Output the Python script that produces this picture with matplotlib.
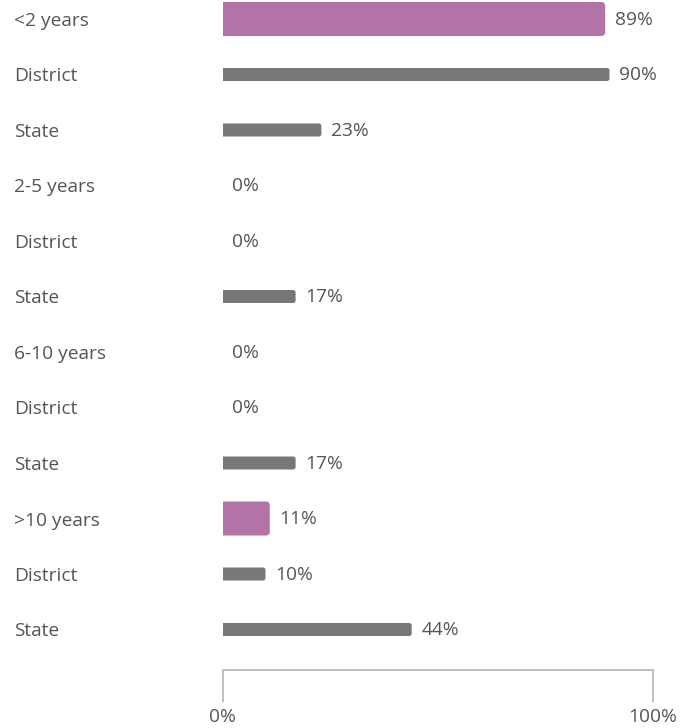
import matplotlib
matplotlib.use("Agg")
import matplotlib.pyplot as plt
from matplotlib.patches import FancyBboxPatch

categories = ["<2 years", "District", "State", "2-5 years", "District", "State",
              "6-10 years", "District", "State", ">10 years", "District", "State"]
values = [89, 90, 23, 0, 0, 17, 0, 0, 17, 11, 10, 44]
is_group = [True, False, False, True, False, False, True, False, False, True, False, False]

PURPLE = "#B273A6"
GRAY = "#777777"
TEXT = "#555555"

plt.rcParams['font.family'] = ['Open Sans', 'DejaVu Sans']
FS = 13.8

W, H = 691, 728
fig = plt.figure(figsize=(W / 100, H / 100), dpi=100)
x0, x1 = 222.5, 652.5
ytop, ybot = 0, 670
ax = fig.add_axes([x0 / W, 1 - ybot / H, (x1 - x0) / W, (ybot - ytop) / H])

row_px = 55.5
first_px = 19
ax.set_xlim(0, 100)
ax.set_ylim((ybot - first_px) / row_px, -first_px / row_px)

xpp = 100 / (x1 - x0)      # data x per pixel
ypp = 1 / row_px           # data y per pixel

ypos = list(range(len(categories)))
heights = [34 * ypp if g else 13 * ypp for g in is_group]
colors = [PURPLE if g else GRAY for g in is_group]

bars = ax.barh(ypos, values, height=heights, color=colors, alpha=0)
for b, g, c, v in zip(bars, is_group, colors, values):
    x, y = b.get_x(), b.get_y()
    w, h = b.get_width(), b.get_height()
    if w > 0:
        r = (4 if g else 2.5) * xpp
        p = FancyBboxPatch((x - 3 * r, y), w + 3 * r, h,
                           boxstyle=f"round,pad=0,rounding_size={r}",
                           mutation_aspect=ypp / xpp, facecolor=c, edgecolor="none")
        ax.add_patch(p)
    ax.text(w + 9.5 * xpp, y + h / 2 + 0.8 * ypp, f"{v}%", va="center", ha="left",
            fontsize=FS, color=TEXT)

ax.set_yticks(ypos, categories)
ax.tick_params(axis="y", length=0, pad=(x0 - 14) * 0.72, labelsize=FS, labelcolor=TEXT)
for t in ax.get_yticklabels():
    t.set_horizontalalignment("left")

ax.set_xticks([0, 100], ["0%", "100%"])
ax.tick_params(axis="x", length=32 * 0.72, width=1.3, color="#BBBBBB", direction="out",
               pad=4, labelsize=FS, labelcolor=TEXT)
for s in ["top", "right", "left"]:
    ax.spines[s].set_visible(False)
ax.spines["bottom"].set_color("#BBBBBB")
ax.spines["bottom"].set_linewidth(1.3)
ax.set_facecolor("none")

fig.savefig("out.png", dpi=100)
